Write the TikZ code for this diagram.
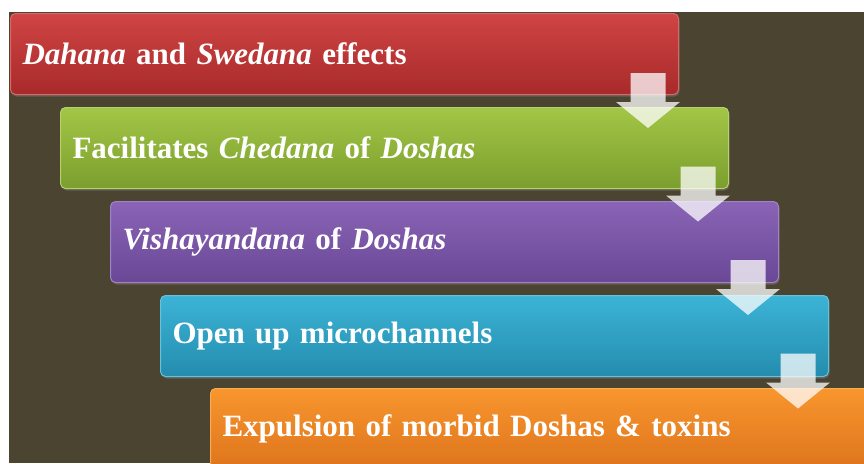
\documentclass[tikz,border=0pt]{standalone}
\usepackage{fontspec}
\setmainfont{Liberation Serif}
\usepackage{tikz}
\usetikzlibrary{shadows}

\definecolor{bgolive}{HTML}{4A4430}
\definecolor{redtop}{HTML}{D04444}
\definecolor{redbot}{HTML}{A82A2A}
\definecolor{greentop}{HTML}{A2C646}
\definecolor{greenbot}{HTML}{7C9E2E}
\definecolor{purpletop}{HTML}{8A64B6}
\definecolor{purplebot}{HTML}{6A4896}
\definecolor{bluetop}{HTML}{3CB4D6}
\definecolor{bluebot}{HTML}{248CAE}
\definecolor{orangetop}{HTML}{F8962E}
\definecolor{orangebot}{HTML}{DE741C}

\begin{document}
\begin{tikzpicture}[x=1pt,y=-1pt,
    step_box/.style={rounded corners=5pt, anchor=north west, minimum height=81pt,
        text width=644pt, inner xsep=12pt, align=left, text=white,
        font=\fontsize{31}{34}\selectfont\bfseries, line width=1pt,
        drop shadow={shadow xshift=1pt, shadow yshift=-2pt, opacity=0.45}},
    down_arrow/.style={fill=white, fill opacity=0.75}]
    \useasboundingbox (0,0) rectangle (864,463);
    \clip (0,0) rectangle (864,463);
    \fill[bgolive] (9,12) rectangle (864,463);
    \node[step_box, top color=redtop, bottom color=redbot, draw=redtop!80!white] (dahana) at (10,13)
        {\textit{Dahana} and \textit{Swedana} effects};
    \node[step_box, top color=greentop, bottom color=greenbot, draw=greentop!80!white] (chedana) at (60,107)
        {Facilitates \textit{Chedana} of \textit{Doshas}};
    \node[step_box, top color=purpletop, bottom color=purplebot, draw=purpletop!80!white] (vishay) at (110,201)
        {\textit{Vishayandana} of \textit{Doshas}};
    \node[step_box, top color=bluetop, bottom color=bluebot, draw=bluetop!80!white] (open) at (160,295)
        {Open up microchannels};
    \node[step_box, top color=orangetop, bottom color=orangebot, draw=orangetop!80!white] (expul) at (210,388)
        {Expulsion of morbid Doshas \& toxins};
    % block arrows between the steps
    \foreach \k in {0,...,3} {
        \pgfmathsetmacro{\ax}{648+50*\k}
        \pgfmathsetmacro{\ay}{73+93.5*\k}
        \fill[down_arrow] (\ax-17.5,\ay) -- (\ax+17.5,\ay) -- (\ax+17.5,\ay+29) -- (\ax+32,\ay+29)
            -- (\ax,\ay+55) -- (\ax-32,\ay+29) -- (\ax-17.5,\ay+29) -- cycle;
    }
\end{tikzpicture}
\end{document}
